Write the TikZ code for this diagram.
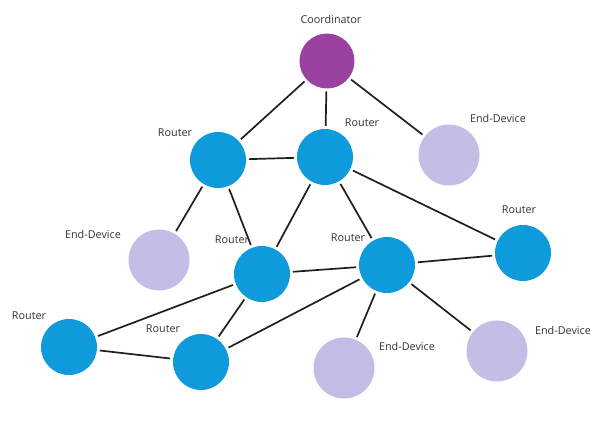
\documentclass[tikz,border=0pt]{standalone}
\usepackage{fontspec}
\setmainfont{Open Sans}
\definecolor{routerc}{RGB}{14,154,219}
\definecolor{coordc}{RGB}{155,66,160}
\definecolor{endc}{RGB}{196,190,230}
\definecolor{labc}{RGB}{50,50,50}
\begin{document}
\begin{tikzpicture}[x=1pt,y=-1pt,
  dev/.style={circle,inner sep=0pt,outer sep=3pt},
  router/.style={dev,fill=routerc,minimum size=56pt},
  coord/.style={dev,fill=coordc,minimum size=55pt},
  enddev/.style={dev,fill=endc,minimum size=61pt},
  lab/.style={font=\fontsize{10.8}{13}\selectfont,text=labc,inner sep=0pt},
  link/.style={line width=1.7pt,draw=black!88}]
\useasboundingbox (0,0) rectangle (606,422);
\node[coord] (co) at (327,61) {};
\node[router] (a) at (218,160) {};
\node[router] (b) at (325,157) {};
\node[enddev] (e1) at (449,155) {};
\node[enddev] (e2) at (159,260) {};
\node[router] (c) at (262,274) {};
\node[router] (d) at (387,265) {};
\node[router] (e) at (523,253) {};
\node[router] (f) at (69,347) {};
\node[router] (g) at (201,362) {};
\node[enddev] (e3) at (344,368) {};
\node[enddev] (e4) at (497,351) {};
\node[lab] (lco) at (331,19) {Coordinator};
\node[lab] (la) at (175,133) {Router};
\node[lab] (lb) at (362,123) {Router};
\node[lab] (le1) at (498,118) {End-Device};
\node[lab] (le2) at (93,234) {End-Device};
\node[lab] (lc) at (232,240) {Router};
\node[lab] (ld) at (348,238) {Router};
\node[lab] (le) at (519,210) {Router};
\node[lab] (lf) at (29,316) {Router};
\node[lab] (lg) at (163,329) {Router};
\node[lab] (le3) at (407,346) {End-Device};
\node[lab] (le4) at (563,330) {End-Device};
\draw[link] (co) -- (a);
\draw[link] (co) -- (b);
\draw[link] (co) -- (e1);
\draw[link] (a) -- (b);
\draw[link] (a) -- (e2);
\draw[link] (a) -- (c);
\draw[link] (b) -- (c);
\draw[link] (b) -- (d);
\draw[link] (b) -- (e);
\draw[link] (c) -- (d);
\draw[link] (c) -- (f);
\draw[link] (c) -- (g);
\draw[link] (d) -- (e);
\draw[link] (d) -- (g);
\draw[link] (d) -- (e3);
\draw[link] (d) -- (e4);
\draw[link] (f) -- (g);
\end{tikzpicture}
\end{document}
